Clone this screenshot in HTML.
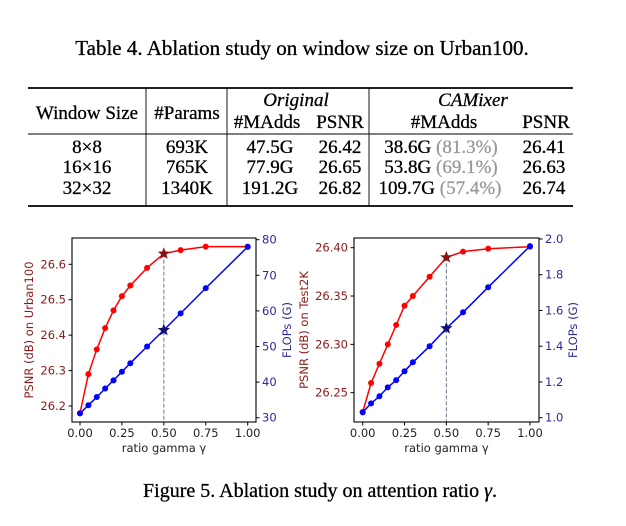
<!DOCTYPE html>
<html><head><meta charset="utf-8"><style>
html,body{margin:0;padding:0;background:#fff;width:626px;height:526px;overflow:hidden}
svg{display:block}
.s{font-family:"Liberation Serif",serif;fill:#000;stroke:#000;stroke-width:0.3}
.t{font-family:"DejaVu Sans",sans-serif;font-size:11.5px}
</style></head><body>
<svg id="svg" width="626" height="526" xmlns="http://www.w3.org/2000/svg">
<text class="s" x="302" y="55" font-size="21" text-anchor="middle">Table 4. Ablation study on window size on Urban100.</text>
<g>
<line x1="28" y1="88" x2="573" y2="88" stroke="#000" stroke-width="1.8"/>
<line x1="28" y1="134" x2="573" y2="134" stroke="#000" stroke-width="1.1"/>
<line x1="28" y1="206" x2="573" y2="206" stroke="#000" stroke-width="1.8"/>
<line x1="146" y1="88" x2="146" y2="206" stroke="#000" stroke-width="0.9"/>
<line x1="227" y1="88" x2="227" y2="206" stroke="#000" stroke-width="0.9"/>
<line x1="369" y1="88" x2="369" y2="206" stroke="#000" stroke-width="0.9"/>
<g class="s" font-size="19" text-anchor="middle">
<text x="87" y="119">Window Size</text>
<text x="187" y="119">#Params</text>
<text x="296" y="106" font-style="italic">Original</text>
<text x="473" y="106" font-style="italic">CAMixer</text>
<text x="267" y="128">#MAdds</text>
<text x="340" y="128">PSNR</text>
<text x="444" y="128">#MAdds</text>
<text x="546" y="128">PSNR</text>
<text x="87" y="153">8×8</text><text x="187" y="153">693K</text><text x="270" y="153">47.5G</text><text x="340" y="153">26.42</text><text x="441" y="153">38.6G <tspan fill="#999" stroke="#999">(81.3%)</tspan></text><text x="544" y="153">26.41</text>
<text x="87" y="173">16×16</text><text x="187" y="173">765K</text><text x="270" y="173">77.9G</text><text x="340" y="173">26.65</text><text x="441" y="173">53.8G <tspan fill="#999" stroke="#999">(69.1%)</tspan></text><text x="544" y="173">26.63</text>
<text x="87" y="194">32×32</text><text x="187" y="194">1340K</text><text x="270" y="194">191.2G</text><text x="340" y="194">26.82</text><text x="440" y="194">109.7G <tspan fill="#999" stroke="#999">(57.4%)</tspan></text><text x="544" y="194">26.74</text>
</g></g>
<text class="s" x="320" y="497" font-size="20" text-anchor="middle">Figure 5. Ablation study on attention ratio <tspan font-style="italic">γ</tspan>.</text>
</svg>
<script>
const gammas=[0,0.05,0.1,0.15,0.2,0.25,0.3,0.4,0.5,0.6,0.75,1.0];
const psnrUrban=[26.18,26.29,26.36,26.42,26.47,26.51,26.54,26.59,26.63,26.64,26.65,26.65];
const flopsUrban=[31.2,33.5,35.8,38.2,40.5,42.9,45.3,50,54.6,59.3,66.4,78];
const psnrTest=[26.23,26.26,26.28,26.30,26.32,26.34,26.35,26.37,26.39,26.396,26.399,26.401];
const flopsTest=[1.03,1.08,1.12,1.17,1.21,1.26,1.31,1.40,1.50,1.59,1.73,1.96];
const xTicks=[0,0.25,0.5,0.75,1.0];
const leftTicks1=[26.2,26.3,26.4,26.5,26.6];
const rightTicks1=[30,40,50,60,70,80];
const leftTicks2=[26.25,26.30,26.35,26.40];
const rightTicks2=[1.0,1.2,1.4,1.6,1.8,2.0];
const starIndex=8;
const NS="http://www.w3.org/2000/svg";
const svg=document.getElementById('svg');
function mk(tag,attrs,parent){const e=document.createElementNS(NS,tag);for(const k in attrs)e.setAttribute(k,attrs[k]);(parent||svg).appendChild(e);return e;}
function star(cx,cy,r){let p=[];for(let i=0;i<10;i++){const a=-Math.PI/2+i*Math.PI/5;const rr=i%2?r*0.42:r;p.push((cx+rr*Math.cos(a)).toFixed(1)+','+(cy+rr*Math.sin(a)).toFixed(1));}return p.join(' ');}
function chart(o){
  const g=mk('g',{});
  
  
  const X=v=>o.x0+(v-0)*(o.x1-o.x0);
  const YL=v=>o.lA+(v-o.lAv)*(o.lB-o.lA)/(o.lBv-o.lAv);
  const YR=v=>o.rA+(v-o.rAv)*(o.rB-o.rA)/(o.rBv-o.rAv);
  const dl=mk('line',{x1:X(gammas[starIndex]),x2:X(gammas[starIndex]),y1:YL(o.red[starIndex]),y2:o.bot,stroke:'#6a7a95','stroke-width':1,'stroke-dasharray':'4,2'},g);
  
  
  [[o.red,YL,'#ff0000','#8b1010','psnr'],[o.blue,YR,'#0000ff','#101070','flops']].forEach(([d,Y,c,sc,nm])=>{
    const pts=gammas.map((x,i)=>X(x).toFixed(1)+','+Y(d[i]).toFixed(1)).join(' ');
    const pl=mk('polyline',{points:pts,fill:'none',stroke:c,'stroke-width':1.5},g);
    
    
    gammas.forEach((x,i)=>{
      if(i===starIndex){const s=mk('polygon',{points:star(X(x),Y(d[i]),6.5),fill:sc},g);
        
        }
      else{const c2=mk('circle',{cx:X(x),cy:Y(d[i]),r:3,fill:c},g);
        
        }
    });
  });
  mk('rect',{x:o.left,y:o.top,width:o.right-o.left,height:o.bot-o.top,fill:'none',stroke:'#000','stroke-width':1.1},g);
  xTicks.forEach(v=>{mk('line',{x1:X(v),x2:X(v),y1:o.bot,y2:o.bot+3.5,stroke:'#000'},g);
    const t=mk('text',{x:X(v),y:o.bot+15,'text-anchor':'middle',class:'t',fill:'#222'},g);t.textContent=v.toFixed(2);});
  o.lt.forEach(v=>{mk('line',{x1:o.left-3.5,x2:o.left,y1:YL(v),y2:YL(v),stroke:'#000'},g);
    const t=mk('text',{x:o.left-6,y:YL(v)+4,'text-anchor':'end',class:'t',fill:'#8b1a1a'},g);t.textContent=v.toFixed(o.ld);});
  o.rt.forEach(v=>{mk('line',{x1:o.right,x2:o.right+3.5,y1:YR(v),y2:YR(v),stroke:'#000'},g);
    const t=mk('text',{x:o.right+6,y:YR(v)+4,class:'t',fill:'#2a2a9a'},g);t.textContent=v.toFixed(o.rd);});
  const xl=mk('text',{x:(o.left+o.right)/2,y:o.bot+30,'text-anchor':'middle',class:'t',fill:'#222'},g);xl.textContent='ratio gamma γ';
  
  
  const yl=mk('text',{x:0,y:0,'text-anchor':'middle',class:'t',fill:'#8b1a1a',transform:`translate(${o.ylx},${(o.top+o.bot)/2}) rotate(-90)`},g);yl.textContent=o.ylabel;
  
  
  const yr=mk('text',{x:0,y:0,'text-anchor':'middle',class:'t',fill:'#2a2a9a',transform:`translate(${o.yrx},${(o.top+o.bot)/2}) rotate(-90)`},g);yr.textContent='FLOPs (G)';
  
  
}
chart({name:'urban100-chart',left:72,right:256,top:238,bot:422,x0:80,x1:247.7,
  lA:264.3,lAv:26.6,lB:406,lBv:26.2,rA:239.7,rAv:80,rB:417.7,rBv:30,red:psnrUrban,blue:flopsUrban,
  lt:leftTicks1,ld:1,rt:rightTicks1,rd:0,ylabel:'PSNR (dB) on Urban100',ylx:33,yrx:291});
chart({name:'test2k-chart',left:354,right:539,top:238,bot:422,x0:362.7,x1:530,
  lA:247.7,lAv:26.40,lB:392.7,lBv:26.25,rA:239,rAv:2.0,rB:417.7,rBv:1.0,red:psnrTest,blue:flopsTest,
  lt:leftTicks2,ld:2,rt:rightTicks2,rd:1,ylabel:'PSNR (dB) on Test2K',ylx:308,yrx:577});
</script>
</body></html>
